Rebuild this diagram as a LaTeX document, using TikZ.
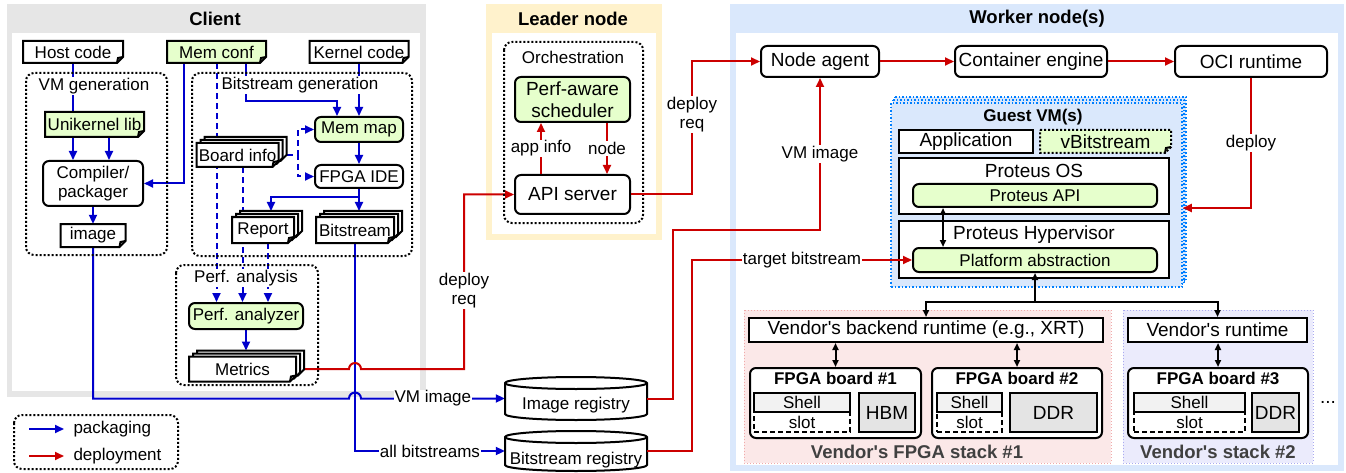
\documentclass[tikz,border=0pt]{standalone}
\usepackage{fontspec}
\setmainfont{Liberation Sans}
\usetikzlibrary{arrows.meta}

\definecolor{pkblue}{RGB}{0,0,204}
\definecolor{dpred}{RGB}{204,0,0}
\definecolor{lgreen}{RGB}{230,255,204}
\definecolor{clientgray}{RGB}{230,230,230}
\definecolor{leaderbg}{RGB}{255,242,204}
\definecolor{workerbg}{RGB}{218,232,252}
\definecolor{guestline}{RGB}{0,127,255}
\definecolor{stackred}{RGB}{251,232,232}
\definecolor{stackredline}{RGB}{240,170,170}
\definecolor{stackblue}{RGB}{235,235,252}
\definecolor{stackblueline}{RGB}{170,170,240}
\definecolor{titlegray}{RGB}{64,64,64}
\definecolor{shellgray}{RGB}{242,242,242}
\definecolor{memgray}{RGB}{228,228,228}

\pgfdeclarelayer{back}
\pgfdeclarelayer{lines}
\pgfsetlayers{back,lines,main}

\newcommand{\fnorm}{\fontsize{17pt}{19pt}\selectfont}
\newcommand{\fbig}{\fontsize{19pt}{22pt}\selectfont}
\newcommand{\ftitle}{\fontsize{18.5pt}{21pt}\selectfont\bfseries}
\newcommand{\apos}{\textquotesingle}

\tikzset{
  >={Triangle[length=9pt,width=8pt]},
  box/.style={draw, line width=2pt, fill=white, inner sep=0pt, font=\fnorm},
  rbox/.style={box, rounded corners=6pt},
  greenbox/.style={rbox, fill=lgreen},
  group/.style={draw, line width=2pt, dotted, rounded corners=8pt},
  grouplbl/.style={fill=white, inner sep=1pt, font=\fnorm},
  docline/.style={line width=2pt, line join=miter},
  pk/.style={draw=pkblue, line width=2pt, ->},
  pkdash/.style={pk, dash pattern=on 6pt off 4pt},
  dp/.style={draw=dpred, line width=2pt, ->},
  blk/.style={line width=2pt, >={Triangle[length=7pt,width=6pt]}},
  lbl/.style={fill=white, inner sep=1pt, font=\fnorm, align=center},
  guest/.style={draw=guestline, line width=1.5pt, dotted, fill=workerbg},
}

% document with folded corner: [style]{name}{cx}{cy}{w}{h}{text}
\newcommand{\docnode}[7][fill=white]{%
  \draw[docline,#1] ({#3-#5/2},{#4-#6/2}) -- ++(#5,0) -- ++(0,{#6-6}) -- ++(-6,6) -- ++({6-#5},0) -- cycle;
  \draw[docline] ({#3+#5/2},{#4+#6/2-6}) -- ++(-5,1) -- ++(-1,5);
  \node[inner sep=0pt, minimum width=#5pt, minimum height=#6pt, font=\fnorm] (#2) at (#3,#4) {#7};
}
% stack of documents: {name}{cx}{cy}{w}{h}{text}
\newcommand{\stacknode}[6]{%
  \foreach \s in {2,1}{
    \draw[docline,fill=white] ({#2-#4/2+4*\s},{#3-#5/2-3*\s}) -- ++(#4,0) -- ++(0,{#5-6}) -- ++(-6,6) -- ++({6-#4},0) -- cycle;
  }
  \docnode{#1}{#2}{#3}{#4}{#5}{#6}
  \coordinate (#1-top) at ({#2+8},{#3-#5/2-6});
}

\begin{document}
\begin{tikzpicture}[x=1pt,y=-1pt]
\useasboundingbox (0,0) rectangle (1346,473);

% panels
\begin{pgfonlayer}{back}
\fill[clientgray] (7,4) rectangle (426,397);
\fill[white] (12,33) rectangle (420,391);
\fill[leaderbg] (486,4) rectangle (662,240);
\fill[white] (492,33) rectangle (656,234);
\fill[workerbg] (730,4) rectangle (1344,471);
\fill[white] (736,33) rectangle (1338,465);
\draw[fill=stackred, draw=stackredline, line width=1pt, dotted] (744,310) rectangle (1111,463);
\draw[fill=stackblue, draw=stackblueline, line width=1pt, dotted] (1123,310) rectangle (1313,463);
\end{pgfonlayer}

\node[font=\ftitle] (clienttitle) at (215,19) {Client};
\node[font=\ftitle] (leadertitle) at (573,19) {Leader node};
\node[font=\ftitle] (workertitle) at (1037,19) {Worker node(s)};

% client
\docnode{hostcode}{73}{52}{100}{22}{Host code}
\docnode[fill=lgreen]{memconf}{216.5}{52}{99}{22}{Mem conf}
\docnode{kernelcode}{359}{52}{99}{22}{Kernel code}

\draw[group] (26,73) rectangle (167,255);
\node[grouplbl] (vmgenlbl) at (94,86) {VM generation};
\docnode[fill=lgreen]{unikernel}{94.5}{124.5}{99}{25}{Unikernel lib}
\node[rbox, minimum width=100pt, minimum height=45pt, align=center] (compiler) at (93,183.5) {Compiler/\\packager};
\docnode{image}{93}{235.5}{65}{23}{image}

\draw[group] (192,73) rectangle (412,256);
\node[grouplbl] (bitgenlbl) at (300,85) {Bitstream generation};
\node[greenbox, minimum width=88pt, minimum height=25pt] (memmap) at (359,129.5) {Mem map};
\node[rbox, minimum width=88pt, minimum height=23pt] (fpgaide) at (359,176.5) {FPGA IDE};
\stacknode{boardinfo}{237.5}{155}{82}{24}{Board info}
\stacknode{report}{263}{230}{62}{26}{Report}
\stacknode{bitstream}{355}{230}{78}{26}{Bitstream}

\draw[group] (176,265) rectangle (318,385);
\node[grouplbl] (perflbl) at (246,278) {Perf. analysis};
\node[greenbox, minimum width=114pt, minimum height=26pt] (analyzer) at (246,316) {Perf. analyzer};
\stacknode{metrics}{242.5}{369}{107}{25}{Metrics}

% legend
\draw[group] (14,415) rectangle (178,469);
\node[anchor=west, font=\fnorm] (lgpk) at (70,429) {packaging};
\node[anchor=west, font=\fnorm] (lgdp) at (70,456) {deployment};
\draw[pk] ([xshift=-41pt]lgpk.west) -- ([xshift=-6pt]lgpk.west);
\draw[dp] ([xshift=-41pt]lgdp.west) -- ([xshift=-6pt]lgdp.west);

% registries
\draw[docline, fill=white] (505,383) -- (505,414) arc[start angle=180, end angle=360, x radius=71pt, y radius=6pt] -- (647,383) arc[start angle=0, end angle=180, x radius=71pt, y radius=6pt] -- cycle;
\draw[docline] (505,383) arc[start angle=180, end angle=360, x radius=71pt, y radius=6pt];
\node[minimum width=142pt, minimum height=43pt, inner sep=0pt] (imgreg) at (576,398.5) {};
\node[font=\fnorm] (imgregtxt) at ([yshift=-7pt]imgreg.center) {Image registry};
\draw[docline, fill=white] (505,437) -- (505,465) arc[start angle=180, end angle=360, x radius=71pt, y radius=6pt] -- (647,437) arc[start angle=0, end angle=180, x radius=71pt, y radius=6pt] -- cycle;
\draw[docline] (505,437) arc[start angle=180, end angle=360, x radius=71pt, y radius=6pt];
\node[minimum width=142pt, minimum height=40pt, inner sep=0pt] (bitreg) at (576,451) {};
\node[font=\fnorm] (bitregtxt) at ([yshift=-9pt]bitreg.center) {Bitstream registry};

% leader
\draw[group] (504,42) rectangle (643,223);
\node[font=\fnorm] (orchlbl) at (573,57) {Orchestration};
\node[greenbox, font=\fbig, minimum width=115pt, minimum height=45pt, align=center] (sched) at (572.5,99.5) {Perf-aware\\scheduler};
\node[rbox, font=\fbig, minimum width=115pt, minimum height=39pt] (apiserver) at (572.5,194.5) {API server};

% worker
\node[rbox, font=\fbig, minimum width=118pt, minimum height=31pt] (nodeagent) at (820,61.5) {Node agent};
\node[rbox, font=\fbig, minimum width=152pt, minimum height=31pt] (engine) at (1031,61.5) {Container engine};
\node[rbox, font=\fbig, minimum width=152pt, minimum height=31pt] (ociruntime) at (1251,61.5) {OCI runtime};

\foreach \s in {2,1}
  \draw[guest] (891+2*\s,103-3*\s) rectangle (1182+2*\s,287-3*\s);
\node[guest, minimum width=291pt, minimum height=184pt] (guestvm) at (1036.5,195) {};
\node[font=\bfseries\fnorm] (guesttitle) at (1033,117) {Guest VM(s)};
\node[box, font=\fbig, minimum width=134pt, minimum height=23pt] (app) at (966,141.5) {Application};
\docnode[fill=lgreen, dotted]{vbit}{1105.5}{141.5}{131}{23}{\fbig vBitstream}
\node[box, minimum width=270pt, minimum height=56pt] (protos) at (1034,186) {};
\node[font=\fbig] (protostxt) at (1034,171) {Proteus OS};
\node[greenbox, minimum width=244pt, minimum height=23pt] (protapi) at (1035,195.5) {Proteus API};
\node[box, minimum width=270pt, minimum height=57pt] (hyp) at (1034,249.5) {};
\node[font=\fbig] (hyptxt) at (1034,235) {Proteus Hypervisor};
\node[greenbox, minimum width=244pt, minimum height=24pt] (platabs) at (1035,260) {Platform abstraction};

\node[box, font=\fbig, minimum width=354pt, minimum height=24pt] (backend) at (926,330) {Vendor\apos s backend runtime (e.g., XRT)};
\node[box, font=\fbig, minimum width=179pt, minimum height=24pt] (vendorrt) at (1217.5,330) {Vendor\apos s runtime};
\foreach \name/\cx/\w/\num in {board1/835.5/171/1, board2/1017/170/2, board3/1218/180/3} {
  \node[rbox, minimum width=\w pt, minimum height=70pt] (\name) at (\cx,403) {};
  \node[font=\bfseries\fnorm] (\name-t) at (\cx,378) {FPGA board \#\num};
}
\foreach \i/\cx/\w in {1/802/96, 2/969.5/65, 3/1189.5/111} {
  \node[box, dash pattern=on 5pt off 3pt, minimum width=\w pt, minimum height=20pt] (slot\i) at (\cx,422) {slot};
  \node[box, fill=shellgray, minimum width=\w pt, minimum height=19pt] (shell\i) at (\cx,402.5) {Shell};
}
\foreach \name/\cx/\w/\t in {hbm/887/56/HBM, ddr2/1053.5/87/DDR, ddr3/1275.5/47/DDR}
  \node[box, fill=memgray, font=\fbig, minimum width=\w pt, minimum height=39pt] (\name) at (\cx,412.5) {\t};
\node[font=\ftitle, text=titlegray] (stack1lbl) at (917,452) {Vendor\apos s FPGA stack \#1};
\node[font=\ftitle, text=titlegray] (stack2lbl) at (1218,452) {Vendor\apos s stack \#2};
\node[font=\fbig] (more) at (1328,402) {...};

% packaging flow
\begin{pgfonlayer}{lines}
\draw[pk,-] (hostcode.south) -- (hostcode.south |- unikernel.north);
\draw[pk] (hostcode.south |- unikernel.south) -- (hostcode.south |- compiler.north);
\draw[pk] ([xshift=14.5pt]unikernel.south) -- ([xshift=14.5pt]unikernel.south |- compiler.north);
\draw[pk] ([xshift=-32.5pt]memconf.south) |- (compiler.east);
\draw[pk] (compiler.south) -- (image.north);
\draw[pk] ([xshift=29.5pt]memconf.south) -- ++(0,38) -| ([xshift=-22pt]memmap.north);
\draw[pk] (kernelcode.south) -- (memmap.north);
\draw[pk] (memmap.south) -- (fpgaide.north);
\draw[pk] (fpgaide.south) -- ++(0,8) -| (report-top);
\draw[pk] (fpgaide.south) -- (fpgaide.south |- bitstream-top);
\draw[pkdash] ([xshift=8pt]boardinfo.east) -- ++(11,0) |- (memmap.west);
\draw[pkdash] ([xshift=8pt]boardinfo.east) -- ++(11,0) |- (fpgaide.west);
\draw[pkdash] (memconf.south) -- (memconf.south |- analyzer.north);
\draw[pkdash] ([xshift=5pt]boardinfo.south) -- ([xshift=5pt]boardinfo.south |- analyzer.north);
\draw[pkdash] ([xshift=5pt]report.south) -- ([xshift=5pt]report.south |- analyzer.north);
\draw[pk] (analyzer.south) -- (analyzer.south |- metrics-top);
\draw[pk] (image.south) -- (image.south |- imgreg.west) -- ([xshift=-6pt]bitstream.south |- imgreg.west) arc[start angle=180, end angle=0, radius=6pt] -- node[lbl]{VM image} (imgreg.west);
\draw[pk] (bitstream.south) -- (bitstream.south |- bitreg.west) -- node[lbl]{all bitstreams} (bitreg.west);
\draw[dp] ([xshift=8pt]metrics.east) -- ([xshift=-6pt]bitstream.south |- metrics.east) arc[start angle=180, end angle=0, radius=6pt] -- (464,369) -- node[lbl,pos=0.45]{deploy\\req} (464,194.5) -- (apiserver.west);
\end{pgfonlayer}

% deployment flow
\draw[dp] ([xshift=-31.5pt]apiserver.north) -- node[lbl]{app info} ([xshift=-31.5pt]sched.south);
\draw[dp] ([xshift=34.5pt]sched.south) -- node[lbl]{node} ([xshift=34.5pt]apiserver.north);
\draw[dp] (apiserver.east) -- (692,194.5) -- node[lbl,pos=0.6]{deploy\\req} (692,61.5) -- (nodeagent.west);
\draw[dp] (nodeagent.east) -- (engine.west);
\draw[dp] (engine.east) -- (ociruntime.west);
\draw[dp] (ociruntime.south) |- node[lbl,pos=0.25]{deploy} ([yshift=-13pt]guestvm.east);
\draw[dp] (imgreg.east) -- (673,398.5) -- (673,230) -| node[lbl,pos=0.75]{VM image} (nodeagent.south);
\draw[dp] (bitreg.east) -- (692,451) -- (692,260) -- node[lbl]{target bitstream} (platabs.west);

% platform links
\draw[blk,<->] ([xshift=-92pt]protapi.south) -- ([xshift=-92pt]protapi.south |- platabs.north);
\draw[blk,<-] (platabs.south) -- ++(0,29) coordinate (split);
\draw[blk,->] (split) -| (backend.north);
\draw[blk,->] (split) -| (vendorrt.north);
\draw[blk,<->] (board1.north |- backend.south) -- (board1.north);
\draw[blk,<->] (board2.north |- backend.south) -- (board2.north);
\draw[blk,<->] (board3.north |- vendorrt.south) -- (board3.north);
\end{tikzpicture}
\end{document}
